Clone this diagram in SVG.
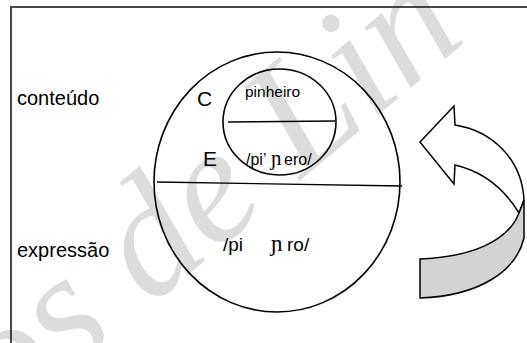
<svg xmlns="http://www.w3.org/2000/svg" width="527" height="343" viewBox="0 0 527 343">
  <style>
    .lbl { font-family: "Liberation Sans", Arial, sans-serif; fill: #000; }
    .ipa { font-family: "Liberation Serif", "DejaVu Serif", serif; fill: #000; }
    .ln { stroke: #000; stroke-width: 1.3; fill: none; }
    .ring { stroke: #000; stroke-width: 1.6; fill: none; }
    .wm { font-family: "Liberation Serif", "DejaVu Serif", serif; font-style: italic; fill: #dcdcdc; }
  </style>
  <rect width="527" height="343" fill="#fff"/>

  <!-- faint background lettering -->
  <g id="watermark">
    <text class="wm" font-size="165" transform="translate(140,315) rotate(-40)" x="-175">os de Lin</text>
  </g>

  <!-- frame -->
  <g id="frame">
    <rect x="11" y="7" width="600" height="400" fill="none" stroke="#333" stroke-width="1.8"/>
  </g>

  <g id="side-labels">
    <text class="lbl" x="17" y="105" font-size="20">conteúdo</text>
    <text class="lbl" x="17" y="257" font-size="20">expressão</text>
  </g>

  <g id="sign-outer">
    <ellipse class="ring" cx="277" cy="182" rx="123" ry="130"/>
    <text class="lbl" x="197" y="106" font-size="21">C</text>
    <text class="lbl" x="203" y="166" font-size="21">E</text>
    <text class="lbl" x="223" y="251" font-size="19">/pi</text>
    <text class="ipa" x="271" y="251" font-size="23">ɲ</text>
    <text class="lbl" x="287" y="251" font-size="19">ro/</text>
  </g>

  <g id="sign-inner">
    <ellipse class="ring" cx="279.5" cy="122" rx="56.5" ry="53"/>
    <text class="lbl" x="245" y="97" font-size="15.5">pinheiro</text>
    <text class="lbl" x="246" y="165" font-size="16">/pi’</text>
    <text class="ipa" x="271" y="165" font-size="21">ɲ</text>
    <text class="lbl" x="284" y="165" font-size="16">ero/</text>
  </g>

  <g id="connectors">
    <line class="ln" x1="228" y1="122" x2="335" y2="121"/>
    <line class="ln" x1="157" y1="182" x2="402" y2="186"/>
  </g>

  <!-- curved turning arrow -->
  <g id="turn-arrow" stroke="#000" stroke-width="1.5" stroke-linejoin="miter">
    <path d="M420,142 L454,106 L455,125 C493,131 522,160 524,200 L519,213 C505,190 485,172 455,165 L454,184 Z" fill="#fff"/>
    <path d="M524,200 L524,238 C516,272 478,296 420,298 L420,259 C470,257 508,242 519,213 Z" fill="#d3d3d3"/>
  </g>
</svg>
